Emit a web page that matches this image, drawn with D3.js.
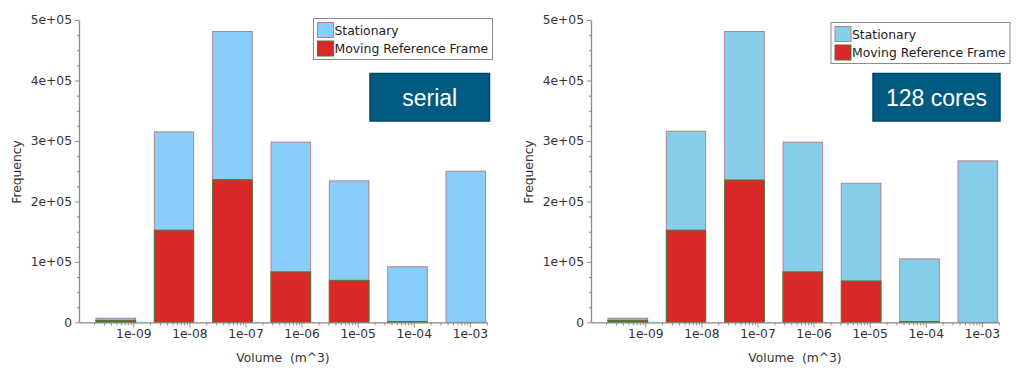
<!DOCTYPE html>
<html>
<head>
<meta charset="utf-8">
<script src="https://cdn.jsdelivr.net/npm/d3@7"></script>
<style>
    html, body { margin: 0; padding: 0; background: #fff; }
    svg { display: block; }
</style>
</head>
<body>
<div id="chart"></div>
<script>
/* DATA */
// Histogram bins (bar edges, m^3)
const binLo = [2.16e-10, 2.37e-9, 2.60e-8, 2.85e-7, 3.12e-6, 3.43e-5, 3.75e-4];
const binHi = [1.10e-9, 1.19e-8, 1.32e-7, 1.45e-6, 1.59e-5, 1.74e-4, 1.91e-3];
// Axis ranges and ticks
const xRange = [1.076e-10, 2.02e-3];
const xTicks = [1e-9, 1e-8, 1e-7, 1e-6, 1e-5, 1e-4, 1e-3];
const xLabels = ["1e-09", "1e-08", "1e-07", "1e-06", "1e-05", "1e-04", "1e-03"];
const yRange = [0, 5e5];
const yTicks = [0, 1e5, 2e5, 3e5, 4e5, 5e5];
const yLabels = ["0", "1e+05", "2e+05", "3e+05", "4e+05", "5e+05"];
// Series
const seriesNames = ["Stationary", "Moving Reference Frame"];
const serialStationary = [7000, 315000, 481000, 298000, 234000, 92000, 250000];
const serialMoving = [3500, 152500, 236000, 83500, 69500, 1500, 0];
const coresStationary = [7000, 316000, 481000, 298000, 230000, 105000, 267000];
const coresMoving = [3500, 152500, 235500, 83500, 68500, 1500, 0];
const panelTags = ["serial", "128 cores"];

/* GENERAL */
const W = 1024, H = 374;
const red = "#d9282a", redLine = "#4d7a2c", blueLine = "#b4808e";
const axisCol = "#8a8a8a", textCol = "#333";
const font = "'DejaVu Sans', sans-serif";

const svg = d3.select("#chart")
    .append("svg")
    .attr("width", W)
    .attr("height", H);
svg.append("rect").attr("width", W).attr("height", H).attr("fill", "#fff");

// Draw one histogram panel
function drawPanel(ox, stat, mov, blue, leg, tag, tagText) {
    const g = svg.append("g").attr("transform", `translate(${ox},0)`);
    const x = d3.scaleLog().domain(xRange).range([79, 487]);
    const y = d3.scaleLinear().domain(yRange).range([322.4, 20]);

    // Bars: stationary behind, moving frame on top
    const bins = binLo.map((lo, i) => ({ lo: lo, hi: binHi[i], s: stat[i], m: mov[i] }));
    g.selectAll("rect.stat")
        .data(bins)
        .join("rect")
        .attr("class", "stat")
        .attr("x", d => x(d.lo))
        .attr("width", d => x(d.hi) - x(d.lo))
        .attr("y", d => y(d.s))
        .attr("height", d => y(0) - y(d.s))
        .attr("fill", blue)
        .attr("stroke", blueLine)
        .attr("stroke-width", 1);
    g.selectAll("rect.mov")
        .data(bins.filter(d => d.m > 0))
        .join("rect")
        .attr("class", "mov")
        .attr("x", d => x(d.lo))
        .attr("width", d => x(d.hi) - x(d.lo))
        .attr("y", d => y(d.m))
        .attr("height", d => y(0) - y(d.m))
        .attr("fill", red)
        .attr("stroke", redLine)
        .attr("stroke-width", 1);

    // Y minor ticks
    const yMinor = d3.range(yRange[0], yRange[1] + 1, 2.5e4).filter(v => v % 1e5 !== 0);
    g.append("g")
        .attr("transform", "translate(79,0)")
        .call(d3.axisLeft(y).tickValues(yMinor).tickSize(2).tickFormat(""))
        .call(a => a.select(".domain").remove())
        .selectAll("line").attr("stroke", axisCol);
    // Y axis
    const ya = g.append("g")
        .attr("transform", "translate(79,0)")
        .call(d3.axisLeft(y).tickValues(yTicks).tickSize(4).tickSizeOuter(0).tickPadding(3)
            .tickFormat((d, i) => yLabels[i]));
    ya.select(".domain").attr("stroke", axisCol).attr("stroke-width", 1.3);
    ya.selectAll("line").attr("stroke", axisCol);
    ya.selectAll("text").attr("fill", textCol).style("font", `12.3px ${font}`);

    // X minor ticks
    const xMinor = [];
    for (let k = -10; k <= -3; k++) {
        for (let j = 2; j <= 9; j++) {
            const v = j * Math.pow(10, k);
            if (v > xRange[0] && v < xRange[1]) xMinor.push(v);
        }
    }
    g.append("g")
        .attr("transform", "translate(0,322.4)")
        .call(d3.axisBottom(x).tickValues(xMinor).tickSize(3).tickFormat(""))
        .call(a => a.select(".domain").remove())
        .selectAll("line").attr("stroke", axisCol);
    // X axis
    const xa = g.append("g")
        .attr("transform", "translate(0,322.4)")
        .call(d3.axisBottom(x).tickValues(xTicks).tickSize(5).tickSizeOuter(0).tickPadding(2)
            .tickFormat((d, i) => xLabels[i]));
    xa.select(".domain").attr("stroke", axisCol).attr("stroke-width", 1.3);
    xa.selectAll("line").attr("stroke", axisCol);
    xa.selectAll("text").attr("fill", textCol).style("font", `12.3px ${font}`);

    // Axis titles
    g.append("text")
        .attr("transform", "translate(21,172) rotate(-90)")
        .attr("text-anchor", "middle")
        .attr("fill", textCol)
        .style("font", `12.3px ${font}`)
        .text("Frequency");
    g.append("text")
        .attr("x", 283)
        .attr("y", 362)
        .attr("text-anchor", "middle")
        .attr("fill", textCol)
        .style("font", `12.3px ${font}`)
        .style("white-space", "pre")
        .text("Volume  (m^3)");

    // Legend
    const lg = g.append("g").attr("transform", `translate(${leg[0]},${leg[1]})`);
    lg.append("rect")
        .attr("width", 179).attr("height", 41)
        .attr("fill", "#fff").attr("stroke", "#8c8c8c");
    const cols = [[blue, blueLine], [red, redLine]];
    seriesNames.forEach((name, i) => {
        lg.append("rect")
            .attr("x", 4).attr("y", 4 + i * 18.5)
            .attr("width", 16).attr("height", 15)
            .attr("fill", cols[i][0]).attr("stroke", cols[i][1]);
        lg.append("text")
            .attr("x", 21).attr("y", 16 + i * 18.5)
            .attr("fill", "#222")
            .style("font", `12.4px ${font}`)
            .text(name);
    });

    // Tag box
    g.append("rect")
        .attr("x", tag[0]).attr("y", 73.5)
        .attr("width", tag[1]).attr("height", 47.5)
        .attr("fill", "#005a82").attr("stroke", "#00476a").attr("stroke-width", 1.5);
    g.append("text")
        .attr("x", tag[0] + tag[1] / 2).attr("y", 106)
        .attr("text-anchor", "middle")
        .attr("fill", "#fff")
        .style("font", "23px 'Liberation Sans', Arial, sans-serif")
        .text(tagText);
}

drawPanel(0, serialStationary, serialMoving, "#87cefa", [313.5, 18.5], [370, 119.5], panelTags[0]);
drawPanel(512, coresStationary, coresMoving, "#87ceeb", [319, 22.5], [361, 127], panelTags[1]);
</script>
</body>
</html>
